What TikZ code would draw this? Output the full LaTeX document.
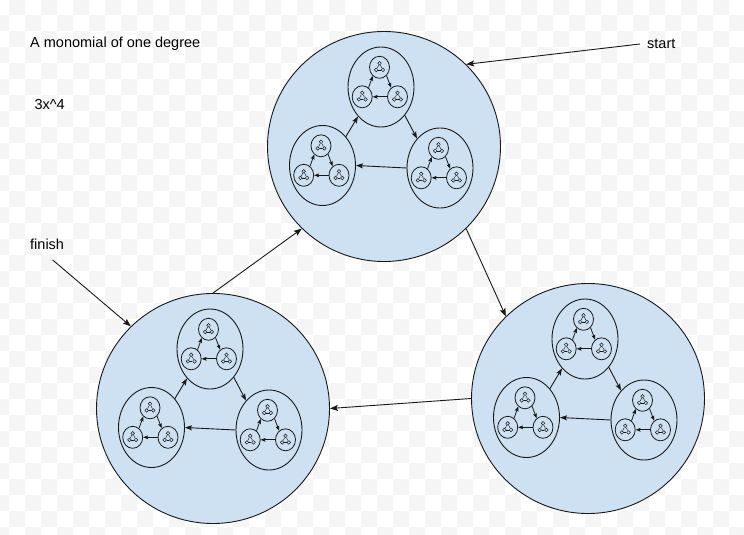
\documentclass[tikz,border=0pt]{standalone}
\usepackage{fontspec}
\setmainfont{Liberation Sans}
\usetikzlibrary{arrows.meta,shapes.geometric}
\definecolor{cfill}{RGB}{206,225,242}
\definecolor{cgray}{RGB}{245,245,245}
\definecolor{cline}{RGB}{25,25,25}
\tikzset{
  bg/.style={ellipse,draw=cline,fill=cfill,line width=0.9pt,minimum width=233pt,minimum height=230pt,inner sep=0pt},
  md/.style={ellipse,draw=cline,fill=cfill,line width=0.9pt,minimum width=66pt,minimum height=80pt,inner sep=0pt},
  sm/.style={ellipse,draw=cline,fill=cfill,line width=0.8pt,minimum width=20pt,minimum height=22pt,inner sep=0pt},
  ti/.style={circle,draw=cline,fill=cfill,line width=0.5pt,minimum size=3.6pt,inner sep=0pt},
  tl/.style={draw=cline,line width=0.45pt},
  bar/.style={draw=cline,line width=0.9pt,-{Stealth[length=8pt,width=6pt,inset=1.5pt]}},
  mar/.style={draw=cline,line width=0.9pt,-{Stealth[length=7pt,width=5pt,inset=1.3pt]}},
  sar/.style={draw=cline,line width=0.8pt,-{Stealth[length=5pt,width=3.8pt,inset=1pt]}},
  lbl/.style={anchor=base west,inner sep=0pt,font=\fontsize{14.5}{17}\selectfont,text=black}
}
\newcommand\smallu[3]{%
  \begin{scope}[shift={(#2,#3)}]
    \node[sm] (#1) at (0,0) {};
    \node[ti] (#1a) at (0,-4) {};
    \node[ti] (#1b) at (-3.3,2.6) {};
    \node[ti] (#1c) at (3.3,2.6) {};
    \draw[tl] (#1a) -- (#1c);
    \draw[tl] (#1c) -- (#1b);
    \draw[tl] (#1b) -- (#1a);
  \end{scope}}
\newcommand\medu[3]{%
  \begin{scope}[shift={(#2,#3)}]
    \node[md] (#1) at (0,0) {};
    \smallu{#1t}{-1.5}{-19.7}
    \smallu{#1l}{-18.8}{9.8}
    \smallu{#1r}{16.5}{9.8}
    \draw[sar] (#1t.-50) -- (#1r.125);
    \draw[sar] (#1r.180) -- (#1l.0);
    \draw[sar] (#1l.55) -- (#1t.-128);
  \end{scope}}
\newcommand\bigu[3]{%
  \begin{scope}[shift={(#2,#3)}]
    \node[bg] (#1) at (0,0) {};
    \medu{#1t}{-3}{-59.5}
    \medu{#1l}{-61.5}{19}
    \medu{#1r}{56}{21.5}
    \draw[mar] (#1t.-50) -- (#1r.128);
    \draw[mar] (#1r.180) -- (#1l.0);
    \draw[mar] (#1l.51) -- (#1t.-128);
  \end{scope}}
\begin{document}
\begin{tikzpicture}[x=1pt,y=-1pt]
\useasboundingbox (0,0) rectangle (744,535);
\begin{scope}
  \clip (0,0) rectangle (744,535);
  \fill[white] (0,0) rectangle (744,535);
  \foreach \i in {-1,...,46}{
    \foreach \j in {-1,...,33}{
      \pgfmathtruncatemacro\pp{mod(\i+\j+10,2)}
      \ifnum\pp=1
        \fill[cgray] (9+16*\i,15+16*\j) rectangle ++(16,16);
      \fi
    }
  }
\end{scope}
\bigu{T}{384}{146.5}
\bigu{L}{213}{408.5}
\bigu{R}{588}{398.5}
\draw[bar] (T.-45) -- (R.135);
\draw[bar] (R.180) -- (L.0);
\draw[bar] (L.90) -- (T.-135);
\coordinate (s0) at (640,44);
\coordinate (f0) at (52.7,260);
\draw[bar] (s0) -- (T.45);
\draw[bar] (f0) -- (L.135);
\node[lbl] (t1) at (30,47.3) {A monomial of one degree};
\node[lbl] (t2) at (34.3,109) {3x\^{}4};
\node[lbl] (t3) at (30,249) {finish};
\node[lbl] (t4) at (647,48.3) {start};
\end{tikzpicture}
\end{document}
